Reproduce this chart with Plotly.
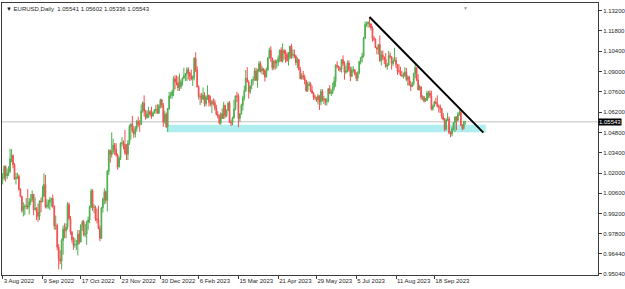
import plotly.graph_objects as go
import pandas as pd

# ---- EURUSD Daily OHLC (3 Aug 2022 .. 17 Oct 2023) ----
OPEN = [
    1.0163, 1.0167, 1.0245,
    1.0181, 1.0196, 1.0211, 1.0298, 1.0321,
    1.0259, 1.0161, 1.0169, 1.0178, 1.0088,
    1.0038, 0.9941, 0.9966, 0.9970, 0.9975,
    0.9965, 1.0003, 1.0017, 1.0054, 0.9947,
    0.9956, 0.9930, 0.9901, 1.0007, 1.0001,
    1.0041, 1.0121, 0.9968, 0.9979, 0.9999,
    1.0016, 1.0025, 0.9972, 0.9837, 0.9838,
    0.9689, 0.9607, 0.9593, 0.9735, 0.9815,
    0.9802, 0.9826, 0.9984, 0.9887, 0.9793,
    0.9742, 0.9704, 0.9706, 0.9707, 0.9779,
    0.9724, 0.9840, 0.9865, 0.9775, 0.9780,
    0.9862, 0.9876, 0.9963, 1.0077, 0.9964,
    0.9965, 0.9884, 0.9878, 0.9818, 0.9749,
    0.9960, 1.0021, 1.0072, 1.0011, 1.0210,
    1.0355, 1.0327, 1.0349, 1.0393, 1.0364,
    1.0325, 1.0243, 1.0304, 1.0407, 1.0407,
    1.0397, 1.0338, 1.0330, 1.0406, 1.0522,
    1.0536, 1.0493, 1.0469, 1.0507, 1.0556,
    1.0536, 1.0536, 1.0630, 1.0683, 1.0626,
    1.0583, 1.0606, 1.0624, 1.0605, 1.0594,
    1.0616, 1.0636, 1.0640, 1.0612, 1.0663,
    1.0705, 1.0668, 1.0551, 1.0606, 1.0520,
    1.0644, 1.0732, 1.0734, 1.0762, 1.0851,
    1.0830, 1.0821, 1.0788, 1.0795, 1.0831,
    1.0855, 1.0870, 1.0885, 1.0914, 1.0890,
    1.0870, 1.0848, 1.0862, 1.0991, 1.0912,
    1.0794, 1.0727, 1.0729, 1.0711, 1.0738,
    1.0678, 1.0723, 1.0737, 1.0688, 1.0675,
    1.0694, 1.0686, 1.0648, 1.0605, 1.0596,
    1.0546, 1.0609, 1.0576, 1.0668, 1.0597,
    1.0634, 1.0682, 1.0549, 1.0545, 1.0581,
    1.0640, 1.0731, 1.0730, 1.0577, 1.0609,
    1.0668, 1.0718, 1.0770, 1.0855, 1.0828,
    1.0760, 1.0800, 1.0843, 1.0843, 1.0905,
    1.0839, 1.0903, 1.0955, 1.0903, 1.0920,
    1.0906, 1.0862, 1.0912, 1.0993, 1.1047,
    1.0993, 1.0927, 1.0972, 1.0958, 1.0967,
    1.0990, 1.1049, 1.0973, 1.1043, 1.1028,
    1.1019, 1.0976, 1.0996, 1.1075, 1.1012,
    1.1017, 1.1008, 1.0962, 1.0982, 1.0915,
    1.0850, 1.0872, 1.0862, 1.0838, 1.0768,
    1.0805, 1.0815, 1.0769, 1.0751, 1.0726,
    1.0723, 1.0705, 1.0733, 1.0689, 1.0763,
    1.0707, 1.0712, 1.0692, 1.0698, 1.0782,
    1.0749, 1.0755, 1.0792, 1.0833, 1.0944,
    1.0937, 1.0921, 1.0915, 1.0982, 1.0956,
    1.0895, 1.0906, 1.0960, 1.0912, 1.0868,
    1.0910, 1.0912, 1.0881, 1.0853, 1.0888,
    1.0968, 1.0997, 1.1008, 1.1130, 1.1224,
    1.1229, 1.1237, 1.1229, 1.1200, 1.1130,
    1.1124, 1.1064, 1.1054, 1.1086, 1.0975,
    1.1015, 1.0998, 1.0984, 1.0936, 1.0946,
    1.1010, 1.1003, 1.0956, 1.0973, 1.0979,
    1.0948, 1.0904, 1.0903, 1.0875, 1.0870,
    1.0872, 1.0896, 1.0845, 1.0863, 1.0807,
    1.0796, 1.0818, 1.0884, 1.0927, 1.0843,
    1.0774, 1.0795, 1.0722, 1.0725, 1.0697,
    1.0700, 1.0752, 1.0753, 1.0733, 1.0642,
    1.0660, 1.0690, 1.0679, 1.0660, 1.0658,
    1.0645, 1.0592, 1.0570, 1.0501, 1.0566,
    1.0573, 1.0478, 1.0469, 1.0505, 1.0548,
    1.0588, 1.0564, 1.0605, 1.0619, 1.0530,
    1.0508, 1.05541,
]

HIGH = [
    1.0200, 1.0254, 1.0252,
    1.0232, 1.0248, 1.0368, 1.0364, 1.0329,
    1.0268, 1.0202, 1.0202, 1.0190, 1.0095,
    1.0045, 0.9999, 0.9985, 1.0029, 1.0090,
    1.0028, 1.0055, 1.0080, 1.0056, 1.0033,
    0.9965, 0.9990, 1.0011, 1.0030, 1.0113,
    1.0198, 1.0187, 1.0020, 1.0017, 1.0036,
    1.0029, 1.0051, 0.9976, 0.9907, 0.9852,
    0.9710, 0.9669, 0.9748, 0.9838, 0.9854,
    0.9853, 0.9999, 0.9996, 0.9904, 0.9800,
    0.9760, 0.9753, 0.9739, 0.9807, 0.9807,
    0.9847, 0.9875, 0.9876, 0.9848, 0.9871,
    0.9900, 0.9976, 1.0093, 1.0088, 0.9986,
    0.9975, 0.9954, 0.9976, 0.9839, 0.9966,
    1.0032, 1.0095, 1.0080, 1.0222, 1.0365,
    1.0362, 1.0481, 1.0437, 1.0408, 1.0406,
    1.0334, 1.0316, 1.0412, 1.0448, 1.0425,
    1.0497, 1.0400, 1.0428, 1.0534, 1.0545,
    1.0595, 1.0523, 1.0525, 1.0567, 1.0589,
    1.0565, 1.0673, 1.0695, 1.0736, 1.0637,
    1.0633, 1.0657, 1.0635, 1.0658, 1.0625,
    1.0640, 1.0671, 1.0674, 1.0675, 1.0713,
    1.0712, 1.0683, 1.0630, 1.0617, 1.0650,
    1.0760, 1.0760, 1.0775, 1.0868, 1.0875,
    1.0874, 1.0867, 1.0887, 1.0847, 1.0860,
    1.0927, 1.0890, 1.0929, 1.0930, 1.0898,
    1.0914, 1.0873, 1.1000, 1.1033, 1.0937,
    1.0804, 1.0748, 1.0753, 1.0790, 1.0758,
    1.0733, 1.0805, 1.0741, 1.0733, 1.0706,
    1.0715, 1.0706, 1.0671, 1.0627, 1.0604,
    1.0619, 1.0645, 1.0691, 1.0671, 1.0638,
    1.0694, 1.0697, 1.0568, 1.0589, 1.0706,
    1.0736, 1.0760, 1.0748, 1.0614, 1.0679,
    1.0734, 1.0803, 1.0911, 1.0930, 1.0840,
    1.0804, 1.0849, 1.0867, 1.0926, 1.0926,
    1.0919, 1.0973, 1.0970, 1.0940, 1.0925,
    1.0917, 1.0928, 1.1000, 1.1065, 1.1075,
    1.0997, 1.0980, 1.0985, 1.0980, 1.1012,
    1.1050, 1.1067, 1.1095, 1.1055, 1.1050,
    1.1034, 1.1035, 1.1078, 1.1092, 1.1054,
    1.1052, 1.1017, 1.1000, 1.0988, 1.0932,
    1.0890, 1.0904, 1.0879, 1.0844, 1.0829,
    1.0832, 1.0827, 1.0803, 1.0760, 1.0741,
    1.0723, 1.0746, 1.0737, 1.0780, 1.0779,
    1.0732, 1.0713, 1.0719, 1.0786, 1.0807,
    1.0776, 1.0823, 1.0866, 1.0950, 1.0971,
    1.0940, 1.0934, 1.0984, 1.1012, 1.0971,
    1.0939, 1.0976, 1.0978, 1.0934, 1.0934,
    1.0938, 1.0918, 1.0898, 1.0902, 1.0975,
    1.0999, 1.1030, 1.1139, 1.1245, 1.1244,
    1.1249, 1.1276, 1.1231, 1.1213, 1.1145,
    1.1129, 1.1072, 1.1089, 1.1149, 1.1044,
    1.1046, 1.1005, 1.1028, 1.0959, 1.1042,
    1.1032, 1.1004, 1.0996, 1.1065, 1.1001,
    1.0953, 1.0951, 1.0933, 1.0905, 1.0893,
    1.0930, 1.0926, 1.0875, 1.0870, 1.0836,
    1.0829, 1.0893, 1.0945, 1.0929, 1.0882,
    1.0809, 1.0796, 1.0737, 1.0732, 1.0718,
    1.0768, 1.0767, 1.0771, 1.0768, 1.0673,
    1.0699, 1.0718, 1.0736, 1.0672, 1.0673,
    1.0649, 1.0615, 1.0580, 1.0578, 1.0617,
    1.0590, 1.0489, 1.0521, 1.0549, 1.0588,
    1.0590, 1.0620, 1.0640, 1.0640, 1.0537,
    1.0561, 1.05602,
]

LOW = [
    1.0122, 1.0150, 1.0141,
    1.0159, 1.0180, 1.0201, 1.0275, 1.0233,
    1.0152, 1.0121, 1.0158, 1.0078, 1.0033,
    0.9927, 0.9901, 0.9909, 0.9951, 0.9948,
    0.9914, 0.9980, 1.0000, 0.9910, 0.9944,
    0.9877, 0.9864, 0.9876, 0.9929, 1.0000,
    1.0035, 0.9956, 0.9955, 0.9955, 0.9945,
    0.9966, 0.9957, 0.9811, 0.9807, 0.9668,
    0.9536, 0.9571, 0.9535, 0.9637, 0.9751,
    0.9749, 0.9810, 0.9875, 0.9775, 0.9721,
    0.9671, 0.9686, 0.9668, 0.9632, 0.9709,
    0.9723, 0.9800, 0.9764, 0.9757, 0.9705,
    0.9808, 0.9854, 0.9956, 0.9939, 0.9923,
    0.9870, 0.9853, 0.9812, 0.9730, 0.9746,
    0.9927, 0.9985, 0.9990, 0.9935, 1.0187,
    1.0271, 1.0306, 1.0331, 1.0323, 1.0313,
    1.0223, 1.0238, 1.0290, 1.0384, 1.0364,
    1.0325, 1.0290, 1.0290, 1.0394, 1.0430,
    1.0478, 1.0443, 1.0445, 1.0486, 1.0517,
    1.0485, 1.0531, 1.0616, 1.0591, 1.0568,
    1.0575, 1.0580, 1.0589, 1.0574, 1.0588,
    1.0610, 1.0612, 1.0609, 1.0610, 1.0645,
    1.0649, 1.0519, 1.0541, 1.0511, 1.0484,
    1.0636, 1.0713, 1.0712, 1.0730, 1.0778,
    1.0805, 1.0766, 1.0766, 1.0780, 1.0802,
    1.0850, 1.0834, 1.0835, 1.0845, 1.0835,
    1.0839, 1.0801, 1.0839, 1.0896, 1.0792,
    1.0708, 1.0669, 1.0684, 1.0703, 1.0658,
    1.0661, 1.0705, 1.0659, 1.0660, 1.0613,
    1.0666, 1.0631, 1.0596, 1.0577, 1.0536,
    1.0533, 1.0574, 1.0577, 1.0580, 1.0585,
    1.0626, 1.0545, 1.0524, 1.0530, 1.0574,
    1.0633, 1.0690, 1.0516, 1.0552, 1.0603,
    1.0632, 1.0701, 1.0759, 1.0827, 1.0713,
    1.0746, 1.0779, 1.0809, 1.0836, 1.0834,
    1.0788, 1.0896, 1.0893, 1.0880, 1.0878,
    1.0831, 1.0860, 1.0906, 1.0990, 1.0966,
    1.0909, 1.0912, 1.0915, 1.0922, 1.0937,
    1.0965, 1.0965, 1.0962, 1.0983, 1.0960,
    1.0967, 1.0941, 1.0988, 1.0988, 1.0991,
    1.0993, 1.0943, 1.0924, 1.0907, 1.0848,
    1.0845, 1.0843, 1.0812, 1.0760, 1.0760,
    1.0800, 1.0759, 1.0747, 1.0706, 1.0702,
    1.0691, 1.0673, 1.0635, 1.0667, 1.0693,
    1.0676, 1.0667, 1.0666, 1.0686, 1.0745,
    1.0732, 1.0745, 1.0771, 1.0796, 1.0923,
    1.0904, 1.0897, 1.0893, 1.0939, 1.0844,
    1.0884, 1.0893, 1.0899, 1.0834, 1.0862,
    1.0893, 1.0873, 1.0834, 1.0834, 1.0882,
    1.0950, 1.0963, 1.0996, 1.1124, 1.1209,
    1.1203, 1.1205, 1.1183, 1.1106, 1.1112,
    1.1063, 1.1019, 1.1017, 1.0965, 1.0943,
    1.0978, 1.0952, 1.0926, 1.0912, 1.0940,
    1.0989, 1.0914, 1.0939, 1.0970, 1.0925,
    1.0877, 1.0887, 1.0869, 1.0863, 1.0851,
    1.0862, 1.0834, 1.0802, 1.0803, 1.0766,
    1.0793, 1.0803, 1.0855, 1.0834, 1.0771,
    1.0771, 1.0705, 1.0702, 1.0686, 1.0690,
    1.0698, 1.0715, 1.0717, 1.0632, 1.0630,
    1.0655, 1.0675, 1.0652, 1.0617, 1.0615,
    1.0575, 1.0563, 1.0488, 1.0495, 1.0560,
    1.0467, 1.0448, 1.0453, 1.0495, 1.0483,
    1.0497, 1.0555, 1.0596, 1.0524, 1.0495,
    1.0501, 1.05336,
]

CLOSE = [
    1.0167, 1.0245, 1.0181,
    1.0196, 1.0211, 1.0298, 1.0321, 1.0259,
    1.0161, 1.0169, 1.0178, 1.0088, 1.0038,
    0.9941, 0.9966, 0.9970, 0.9975, 0.9965,
    1.0003, 1.0017, 1.0054, 0.9947, 0.9956,
    0.9930, 0.9901, 1.0007, 1.0001, 1.0041,
    1.0121, 0.9968, 0.9979, 0.9999, 1.0016,
    1.0025, 0.9972, 0.9837, 0.9838, 0.9689,
    0.9607, 0.9593, 0.9735, 0.9815, 0.9802,
    0.9826, 0.9984, 0.9887, 0.9793, 0.9742,
    0.9704, 0.9706, 0.9707, 0.9779, 0.9724,
    0.9840, 0.9865, 0.9775, 0.9780, 0.9862,
    0.9876, 0.9963, 1.0077, 0.9964, 0.9965,
    0.9884, 0.9878, 0.9818, 0.9749, 0.9960,
    1.0021, 1.0072, 1.0011, 1.0210, 1.0355,
    1.0327, 1.0349, 1.0393, 1.0364, 1.0325,
    1.0243, 1.0304, 1.0407, 1.0407, 1.0397,
    1.0338, 1.0330, 1.0406, 1.0522, 1.0536,
    1.0493, 1.0469, 1.0507, 1.0556, 1.0536,
    1.0536, 1.0630, 1.0683, 1.0626, 1.0583,
    1.0606, 1.0624, 1.0605, 1.0594, 1.0616,
    1.0636, 1.0640, 1.0612, 1.0663, 1.0705,
    1.0668, 1.0551, 1.0606, 1.0520, 1.0644,
    1.0732, 1.0734, 1.0762, 1.0851, 1.0830,
    1.0821, 1.0788, 1.0795, 1.0831, 1.0855,
    1.0870, 1.0885, 1.0914, 1.0890, 1.0870,
    1.0848, 1.0862, 1.0991, 1.0912, 1.0794,
    1.0727, 1.0729, 1.0711, 1.0738, 1.0678,
    1.0723, 1.0737, 1.0688, 1.0675, 1.0694,
    1.0686, 1.0648, 1.0605, 1.0596, 1.0546,
    1.0609, 1.0576, 1.0668, 1.0597, 1.0634,
    1.0682, 1.0549, 1.0545, 1.0581, 1.0640,
    1.0731, 1.0730, 1.0577, 1.0609, 1.0668,
    1.0718, 1.0770, 1.0855, 1.0828, 1.0760,
    1.0800, 1.0843, 1.0843, 1.0905, 1.0839,
    1.0903, 1.0955, 1.0903, 1.0920, 1.0906,
    1.0862, 1.0912, 1.0993, 1.1047, 1.0993,
    1.0927, 1.0972, 1.0958, 1.0967, 1.0990,
    1.1049, 1.0973, 1.1043, 1.1028, 1.1019,
    1.0976, 1.0996, 1.1075, 1.1012, 1.1017,
    1.1008, 1.0962, 1.0982, 1.0915, 1.0850,
    1.0872, 1.0862, 1.0838, 1.0768, 1.0805,
    1.0815, 1.0769, 1.0751, 1.0726, 1.0723,
    1.0705, 1.0733, 1.0689, 1.0763, 1.0707,
    1.0712, 1.0692, 1.0698, 1.0782, 1.0749,
    1.0755, 1.0792, 1.0833, 1.0944, 1.0937,
    1.0921, 1.0915, 1.0982, 1.0956, 1.0895,
    1.0906, 1.0960, 1.0912, 1.0868, 1.0910,
    1.0912, 1.0881, 1.0853, 1.0888, 1.0968,
    1.0997, 1.1008, 1.1130, 1.1224, 1.1229,
    1.1237, 1.1229, 1.1200, 1.1130, 1.1124,
    1.1064, 1.1054, 1.1086, 1.0975, 1.1015,
    1.0998, 1.0984, 1.0936, 1.0946, 1.1010,
    1.1003, 1.0956, 1.0973, 1.0979, 1.0948,
    1.0904, 1.0903, 1.0875, 1.0870, 1.0872,
    1.0896, 1.0845, 1.0863, 1.0807, 1.0796,
    1.0818, 1.0884, 1.0927, 1.0843, 1.0774,
    1.0795, 1.0722, 1.0725, 1.0697, 1.0700,
    1.0752, 1.0753, 1.0733, 1.0642, 1.0660,
    1.0690, 1.0679, 1.0660, 1.0658, 1.0645,
    1.0592, 1.0570, 1.0501, 1.0566, 1.0573,
    1.0478, 1.0469, 1.0505, 1.0548, 1.0588,
    1.0564, 1.0605, 1.0619, 1.0530, 1.0508,
    1.0554, 1.05543,
]

TICK_DATES = ["2022-08-03", "2022-09-09", "2022-10-17", "2022-11-23", "2022-12-30",
              "2023-02-06", "2023-03-15", "2023-04-21", "2023-05-29", "2023-07-05",
              "2023-08-11", "2023-09-18"]
TICK_TEXT = ["3 Aug 2022", "9 Sep 2022", "17 Oct 2022", "23 Nov 2022", "30 Dec 2022",
             "6 Feb 2023", "15 Mar 2023", "21 Apr 2023", "29 May 2023", "5 Jul 2023",
             "11 Aug 2023", "18 Sep 2023"]
PRICE_TICKS = [1.132, 1.118, 1.104, 1.090, 1.076, 1.062, 1.048, 1.034, 1.020,
               1.006, 0.992, 0.978, 0.9644, 0.9504]

SYMBOL = "EURUSD,Daily"
BID = 1.05543
ZONE_LOW, ZONE_HIGH = 1.0481, 1.0534          # support zone prices
ZONE_FROM, ZONE_TO = "2023-01-06", 328.0       # start date, end bar
TREND_FROM = ("2023-07-18", 1.1276)
TREND_TO = (326.3, 1.0479)

# -----------------------------------------------------------------------
DATES = pd.bdate_range("2022-08-03", periods=len(CLOSE))
X = list(range(len(CLOSE)))
pos = {d.strftime("%Y-%m-%d"): i for i, d in enumerate(DATES)}
tickvals = [pos[d] for d in TICK_DATES]

UP = "#4fae4f"
DOWN = "#f24f4f"
AXIS = "#3c3c3c"
TXT = "#1e1e1e"
FONT = "Liberation Sans, Arial, sans-serif"

fig = go.Figure()
fig.add_trace(go.Candlestick(
    x=X, open=OPEN, high=HIGH, low=LOW, close=CLOSE,
    increasing=dict(line=dict(color=UP, width=1), fillcolor=UP),
    decreasing=dict(line=dict(color=DOWN, width=1), fillcolor=DOWN),
    whiskerwidth=0, hoverinfo="skip", showlegend=False,
))

shapes = [
    # support zone
    dict(type="rect", xref="x", yref="y", x0=pos[ZONE_FROM] - 0.7, x1=ZONE_TO,
         y0=ZONE_LOW, y1=ZONE_HIGH, fillcolor="#aeeeee", line=dict(width=0),
         layer="below"),
    # bid line
    dict(type="line", xref="paper", yref="y", x0=0, x1=1, y0=BID, y1=BID,
         line=dict(color="#d6d6d6", width=1.5), layer="below"),
    # trend line
    dict(type="line", xref="x", yref="y", x0=pos[TREND_FROM[0]], y0=TREND_FROM[1],
         x1=TREND_TO[0], y1=TREND_TO[1], line=dict(color="#000000", width=2)),
]

annotations = [
    dict(text="▼ " + SYMBOL + "  1.05541 1.05602 1.05336 1.05543",
         xref="paper", yref="paper", x=0.004, y=0.995, xanchor="left", yanchor="top",
         showarrow=False, font=dict(family=FONT, size=6, color=TXT)),
    dict(text="%.5f" % BID, xref="paper", yref="y", x=1.0, y=BID, xanchor="left",
         yanchor="middle", showarrow=False, bgcolor="#000000", borderpad=0,
         font=dict(family=FONT, size=6, color="#ffffff")),
    dict(text="▼", xref="x", yref="paper", x=len(CLOSE) - 1, y=1.0, xanchor="center",
         yanchor="top", showarrow=False, font=dict(family=FONT, size=5, color="#9a9a9a")),
]

fig.update_layout(
    width=625, height=289,
    margin=dict(l=2, r=27, t=3, b=14),
    paper_bgcolor="#ffffff", plot_bgcolor="#ffffff",
    showlegend=False, shapes=shapes, annotations=annotations,
    font=dict(family=FONT, size=6, color=TXT),
    xaxis=dict(
        range=[-0.48, 404.1], rangeslider=dict(visible=False),
        tickmode="array", tickvals=tickvals, ticktext=TICK_TEXT,
        tickangle=0,
        ticks="outside", ticklen=3, tickwidth=1, tickcolor=AXIS,
        ticklabelposition="outside right",
        showgrid=False, zeroline=False,
        showline=True, linecolor=AXIS, linewidth=1, mirror=True,
        tickfont=dict(family=FONT, size=6, color=TXT), automargin=False,
    ),
    yaxis=dict(
        side="right", range=[0.9497, 1.1373],
        tickmode="array", tickvals=PRICE_TICKS,
        ticktext=["%.5f" % v for v in PRICE_TICKS],
        ticks="outside", ticklen=3, tickwidth=1, tickcolor=AXIS,
        showgrid=False, zeroline=False,
        showline=True, linecolor=AXIS, linewidth=1, mirror=True,
        tickfont=dict(family=FONT, size=6, color=TXT), automargin=False,
    ),
)

fig.write_html("out.html")
